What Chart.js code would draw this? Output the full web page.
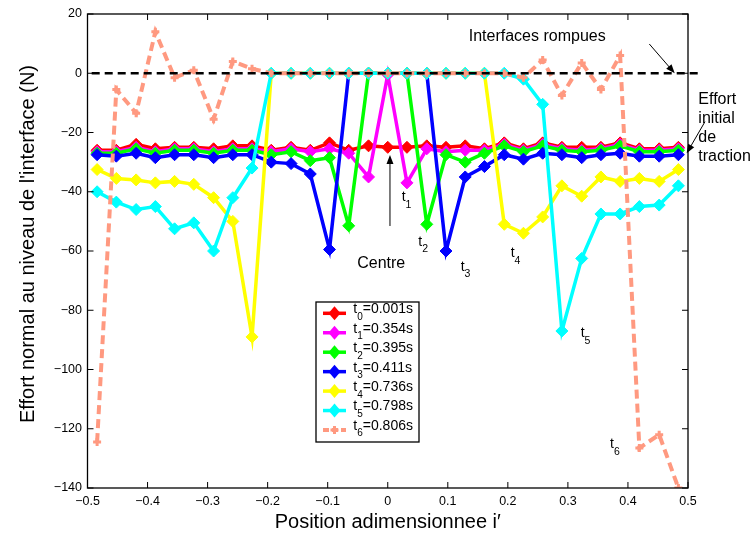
<!DOCTYPE html>
<html>
<head>
<meta charset="utf-8">
<script src="https://cdn.jsdelivr.net/npm/chart.js@4.4.0/dist/chart.umd.min.js"></script>
<style>
  html, body { margin: 0; padding: 0; background: #fff; }
  #wrap { width: 752px; height: 539px; }
</style>
</head>
<body>
<div id="wrap"><canvas id="effortChart" width="752" height="539"></canvas></div>
<script>
// position adimensionnee des 31 interfaces
const positions = [-0.484, -0.452, -0.419, -0.387, -0.355, -0.323, -0.290, -0.258, -0.226, -0.194, -0.161,
  -0.129, -0.097, -0.065, -0.032, 0.000, 0.032, 0.065, 0.097, 0.129, 0.161, 0.194, 0.226, 0.258, 0.290,
  0.323, 0.355, 0.387, 0.419, 0.452, 0.484];

// effort normal (N) a chaque instant
const t0 = [-26, -26, -24, -25.5, -25, -25, -25.5, -24.5, -24.5, -26, -25, -26, -23.5, -26, -24.5, -25,
  -25, -24.5, -25, -24.5, -25.5, -23.5, -25.5, -23.5, -25, -25, -25, -23.5, -25.5, -25.5, -25];
const t1 = [-26.5, -26.5, -25, -26.5, -25.5, -25.5, -26.5, -25.5, -25.5, -26.5, -25.5, -26.5, -25.5, -27, -35, -0.5,
  -37, -25.5, -26.5, -26, -26, -24, -26, -24, -25.5, -26, -25.5, -24, -26, -26, -25.5];
const t2 = [-27, -27, -25.5, -27, -26, -26, -27, -26, -26, -27.5, -26.5, -29.5, -28.5, -51.5, 0, 0,
  0, -51, -27.5, -30, -27, -24.5, -26.5, -24.5, -26, -26.5, -26, -24.5, -26.5, -26.5, -26];
const t3 = [-27.5, -28, -27, -28.5, -27.5, -27.5, -28.5, -27.5, -27.5, -30, -30.5, -34, -59.5, 0, 0, 0,
  0, 0, -60, -35, -31.5, -27.5, -29, -27, -27.5, -28.5, -27.5, -27, -28, -28, -27.5];
const t4 = [-32.5, -35.5, -36, -37, -36.5, -37.5, -42, -50, -89, 0, 0, 0, 0, 0, 0, 0,
  0, 0, 0, 0, 0, -51, -54, -48.5, -38, -41.5, -35, -36.5, -35.5, -36.5, -32.5];
const t5 = [-40, -43.5, -46, -45, -52.5, -50.5, -60, -42, -32, 0, 0, 0, 0, 0, 0, 0,
  0, 0, 0, 0, 0, 0, -2, -10.5, -87, -62.5, -47.5, -47.5, -45, -44.5, -38];
const t6 = [-124.5, -5.5, -13.5, 14, -1.5, 1, -15.5, 4, 1.5, 0, 0, 0, 0, 0, 0, 0,
  0, 0, 0, 0, 0, 0, -1.5, 4.5, -7.5, 3.5, -5.5, 6, -126.5, -122, -140];

const seriesTimes = ['0.001', '0.354', '0.395', '0.411', '0.736', '0.798', '0.806'];
const seriesColors = ['#ff0000', '#ff00ff', '#00ff00', '#0000ff', '#ffff00', '#00ffff', '#ff9980'];

// ligne de reference (effort nul)
const zeroLineX = [-0.493, 0.52];

const xTicks = [-0.5, -0.4, -0.3, -0.2, -0.1, 0, 0.1, 0.2, 0.3, 0.4, 0.5];
const yTicks = [20, 0, -20, -40, -60, -80, -100, -120, -140];

const FONT = "'Liberation Sans', Arial, Helvetica, sans-serif";

function fmt(v) {
  return v < 0 ? '\u2212' + Math.abs(v) : String(v);
}

const series = [t0, t1, t2, t3, t4, t5, t6];
const datasets = series.map((vals, k) => {
  const dashed = k === 6;
  return {
    label: 't' + k + '=' + seriesTimes[k] + 's',
    data: positions.map((x, i) => ({ x: x, y: vals[i] })),
    borderColor: seriesColors[k],
    backgroundColor: seriesColors[k],
    borderWidth: dashed ? 4 : 3.5,
    borderDash: dashed ? [9, 5] : [],
    pointStyle: dashed ? 'cross' : 'rectRot',
    pointRadius: dashed ? 4 : 6,
    pointBorderWidth: dashed ? 3 : 1,
    pointBorderColor: seriesColors[k],
    pointBackgroundColor: seriesColors[k],
    order: 7 - k
  };
});
datasets.push({
  label: 'zero',
  data: zeroLineX.map(x => ({ x: x, y: 0 })),
  borderColor: '#000',
  borderWidth: 2.5,
  borderDash: [8, 5],
  pointRadius: 0,
  clip: false,
  order: 0
});

function arrow(ctx, x1, y1, x2, y2) {
  const a = Math.atan2(y2 - y1, x2 - x1);
  const len = 9, half = 3.5;
  ctx.beginPath();
  ctx.moveTo(x1, y1);
  ctx.lineTo(x2 - Math.cos(a) * len * 0.8, y2 - Math.sin(a) * len * 0.8);
  ctx.stroke();
  ctx.beginPath();
  ctx.moveTo(x2, y2);
  ctx.lineTo(x2 - Math.cos(a) * len - Math.sin(a) * half, y2 - Math.sin(a) * len + Math.cos(a) * half);
  ctx.lineTo(x2 - Math.cos(a) * len + Math.sin(a) * half, y2 - Math.sin(a) * len - Math.cos(a) * half);
  ctx.closePath();
  ctx.fill();
}

// texte "t" avec indice
function tSub(ctx, k, x, y, size, subSize) {
  ctx.textAlign = 'left';
  ctx.textBaseline = 'middle';
  ctx.font = size + 'px ' + FONT;
  ctx.fillText('t', x, y);
  const w = ctx.measureText('t').width;
  ctx.font = subSize + 'px ' + FONT;
  ctx.fillText(String(k), x + w, y + size * 0.55);
  return x + w + ctx.measureText(String(k)).width;
}

const matlabLook = {
  id: 'matlabLook',
  afterDatasetsDraw(chart) {
    const { ctx, chartArea: a, scales: { x, y } } = chart;
    ctx.save();
    ctx.strokeStyle = '#000';
    ctx.lineWidth = 1;
    const tl = 6;
    ctx.beginPath();
    xTicks.forEach(v => {
      const px = x.getPixelForValue(v);
      ctx.moveTo(px, a.bottom); ctx.lineTo(px, a.bottom - tl);
      ctx.moveTo(px, a.top); ctx.lineTo(px, a.top + tl);
    });
    yTicks.forEach(v => {
      const py = y.getPixelForValue(v);
      ctx.moveTo(a.left, py); ctx.lineTo(a.left + tl, py);
      ctx.moveTo(a.right, py); ctx.lineTo(a.right - tl, py);
    });
    ctx.stroke();
    ctx.lineWidth = 1.3;
    ctx.strokeRect(a.left, a.top, a.right - a.left, a.bottom - a.top);
    ctx.restore();
  },
  afterDraw(chart) {
    const { ctx, chartArea: a, scales: { x, y } } = chart;
    const X = v => x.getPixelForValue(v);
    const Y = v => y.getPixelForValue(v);
    ctx.save();
    ctx.fillStyle = '#000';
    ctx.strokeStyle = '#000';
    ctx.lineWidth = 1;

    // titres des axes
    ctx.font = '20px ' + FONT;
    ctx.textAlign = 'center';
    ctx.textBaseline = 'middle';
    ctx.fillText('Position adimensionnee i\u2032', (a.left + a.right) / 2, 522);
    ctx.save();
    ctx.translate(28, 244);
    ctx.rotate(-Math.PI / 2);
    ctx.fillText("Effort normal au niveau de l'interface (N)", 0, 0);
    ctx.restore();

    // annotations
    ctx.font = '16px ' + FONT;
    ctx.textAlign = 'center';
    ctx.fillText('Interfaces rompues', X(0.2489), Y(12.34));
    arrow(ctx, X(0.4356), Y(9.87), X(0.4779), Y(-0.02));
    ctx.fillText('Centre', X(-0.0109), Y(-64.39));
    arrow(ctx, X(0.0037), Y(-51.56), X(0.0037), Y(-27.59));
    ctx.textAlign = 'left';
    ['Effort', 'initial', 'de', 'traction'].forEach((s, i) => {
      ctx.fillText(s, X(0.5172), Y(-9.03) + i * 19);
    });
    arrow(ctx, X(0.5283), Y(-16.35), X(0.4978), Y(-27.02));

    const tPos = [[1, 0.0232, -41.77], [2, 0.0509, -56.86], [3, 0.1215, -65.30],
      [4, 0.2047, -60.78], [5, 0.3213, -87.78], [6, 0.3701, -125.15]];
    tPos.forEach(p => tSub(ctx, p[0], X(p[1]), Y(p[2]), 14, 10.5));

    // legende
    const lg = { left: 316, top: 302, w: 103, h: 140, row0: 313.3, gap: 19.45 };
    ctx.fillStyle = '#fff';
    ctx.fillRect(lg.left, lg.top, lg.w, lg.h);
    ctx.lineWidth = 1.3;
    ctx.strokeRect(lg.left, lg.top, lg.w, lg.h);
    chart.data.datasets.slice(0, 7).forEach((ds, k) => {
      const ry = lg.row0 + k * lg.gap;
      ctx.save();
      ctx.strokeStyle = ds.borderColor;
      ctx.lineWidth = ds.borderWidth;
      ctx.setLineDash(k === 6 ? [6, 3] : []);
      ctx.beginPath();
      ctx.moveTo(323, ry); ctx.lineTo(346, ry);
      ctx.stroke();
      ctx.restore();
      ctx.fillStyle = ds.borderColor;
      ctx.strokeStyle = ds.borderColor;
      ctx.lineWidth = ds.pointBorderWidth;
      ctx.beginPath();
      if (k === 6) {
        ctx.moveTo(330.5, ry); ctx.lineTo(338.5, ry);
        ctx.moveTo(334.5, ry - 4); ctx.lineTo(334.5, ry + 4);
        ctx.stroke();
      } else {
        ctx.moveTo(334.5, ry - 7); ctx.lineTo(340.5, ry); ctx.lineTo(334.5, ry + 7); ctx.lineTo(328.5, ry);
        ctx.closePath();
        ctx.fill();
      }
      ctx.fillStyle = '#000';
      const nx = tSub(ctx, k, 353.3, ry - 4, 14, 10);
      ctx.font = '14px ' + FONT;
      ctx.textBaseline = 'middle';
      ctx.fillText('=' + seriesTimes[k] + 's', nx, ry - 4);
    });
    ctx.restore();
  }
};

new Chart(document.getElementById('effortChart'), {
  type: 'line',
  data: { datasets: datasets },
  options: {
    responsive: false,
    animation: false,
    devicePixelRatio: 1,
    layout: { padding: { left: 0, right: 64, top: 14, bottom: 0 } },
    plugins: { legend: { display: false }, tooltip: { enabled: false } },
    elements: { line: { tension: 0 } },
    scales: {
      x: {
        type: 'linear',
        min: -0.5,
        max: 0.5,
        afterBuildTicks: s => { s.ticks = xTicks.map(v => ({ value: v })); },
        afterFit: s => { s.height = 51; },
        grid: { display: false, drawTicks: false },
        border: { display: false },
        ticks: { color: '#000', padding: 6, maxRotation: 0, font: { family: FONT, size: 12.5 }, callback: v => fmt(v) }
      },
      y: {
        type: 'linear',
        min: -140,
        max: 20,
        afterBuildTicks: s => { s.ticks = yTicks.map(v => ({ value: v })); },
        afterFit: s => { s.width = 87.5; },
        grid: { display: false, drawTicks: false },
        border: { display: false },
        ticks: { color: '#000', padding: 5.5, font: { family: FONT, size: 12.5 }, callback: v => fmt(v) }
      }
    }
  },
  plugins: [matlabLook]
});
</script>
</body>
</html>
